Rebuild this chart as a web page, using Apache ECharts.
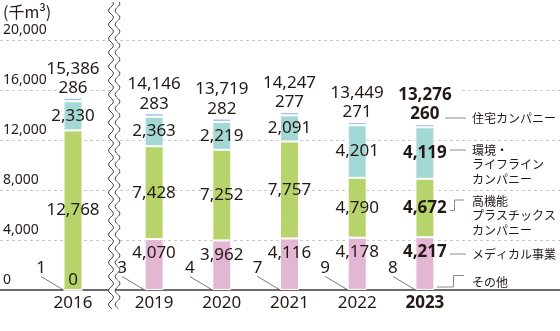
<!DOCTYPE html>
<html><head><meta charset="utf-8">
<script src="https://cdn.jsdelivr.net/npm/echarts@6/dist/echarts.min.js"></script>
<style>html,body{margin:0;padding:0;background:#fff}#c{width:560px;height:331px}</style>
</head><body><div id="c"></div>
<script>
// ---- data ----
const years   = ['2016','2019','2020','2021','2022','2023'];
const other   = [1, 3, 4, 7, 9, 8];
const medical = [0, 4070, 3962, 4116, 4178, 4217];
const hpp     = [12768, 7428, 7252, 7757, 4790, 4672];
const env     = [2330, 2363, 2219, 2091, 4201, 4119];
const housing = [286, 283, 282, 277, 271, 260];
const totals  = [15386, 14146, 13719, 14247, 13449, 13276];
const yTicks  = [0, 4000, 8000, 12000, 16000, 20000];
const unitLabel = '(千m³)';
const layerNames = ['その他', 'メディカル事業', '高機能プラスチックスカンパニー', '環境・ライフラインカンパニー', '住宅カンパニー'];
const annotations = [
  {text: '住宅カンパニー', y: 118},
  {text: '環境・\nライフライン\nカンパニー', y: 150},
  {text: '高機能\nプラスチックス\nカンパニー', y: 201},
  {text: 'メディカル事業', y: 254},
  {text: 'その他', y: 282}
];

const FONT = "'Noto Sans','Noto Sans CJK JP',sans-serif";
const JFONT = "'Noto Sans CJK JP','Noto Sans',sans-serif";
const TXT = '#231815';
const colors = ['#e3b7d4', '#e3b7d4', '#b6d46b', '#a3d8d5', '#a9c4e8'];
const fmt = v => String(v).replace(/\B(?=(\d{3})+(?!\d))/g, ',');
const lastIdx = years.length - 1;

const chart = echarts.init(document.getElementById('c'), null, {renderer: 'canvas'});

const yMin = yTicks[0], yMax = yTicks[yTicks.length - 1], yInt = yTicks[1] - yTicks[0];

function yearItem(i) {
  return i === lastIdx ? {value: years[i], textStyle: {fontWeight: 'bold'}} : years[i];
}

function makeSeries(g, idxs) {
  const layers = [other, medical, hpp, env, housing];
  const padT = g === 1 ? [0, 0] : [1, 10];
  return layers.map((arr, L) => {
    const s = {
      type: 'bar', name: layerNames[L], xAxisIndex: g, yAxisIndex: g, stack: 'st' + g,
      barWidth: 19,
      itemStyle: {color: colors[L], borderColor: '#fff', borderWidth: L === 0 ? 0 : 1},
      emphasis: {disabled: true},
      label: {show: true, color: TXT, fontSize: 17, fontFamily: FONT, formatter: p => fmt(p.value)},
      data: idxs.map(i => {
        const it = {value: arr[i]};
        if (i === lastIdx && L > 0) it.label = {fontWeight: 'bold'};
        return it;
      })
    };
    if (L === 0) {
      s.label.position = 'inside';
      s.labelLayout = {dx: -32, dy: -22};
      s.labelLine = {show: true, lineStyle: {color: '#595757', width: 0.8}};
    } else if (L === 1) {
      s.label.position = 'insideTop';
      s.label.distance = 6;
      s.data.forEach(it => { if (it.value === 0) it.label = Object.assign({}, it.label, {position: 'insideBottom', distance: 2}); });
    } else if (L === 2 || L === 3) {
      s.label.position = 'inside';
    } else {
      s.label.position = 'top';
      s.label.distance = 0;
      const base = {fontSize: 17, color: TXT, fontFamily: FONT, backgroundColor: '#fff'};
      s.label.rich = {
        t: Object.assign({}, base, {lineHeight: 20, padding: padT}),
        v: Object.assign({}, base, {lineHeight: 19}),
        tb: Object.assign({}, base, {lineHeight: 20, padding: padT, fontWeight: 'bold'}),
        vb: Object.assign({}, base, {lineHeight: 19, fontWeight: 'bold'})
      };
      s.data = idxs.map(i => {
        const b = i === lastIdx ? 'b' : '';
        return {value: arr[i], label: {formatter: '{t' + b + '|' + fmt(totals[i]) + '}\n{v' + b + '|' + fmt(arr[i]) + '}'}};
      });
    }
    return s;
  });
}

// wavy axis-break graphic
function wave(cx) {
  const pts = [];
  for (let y = 2; y <= 309; y += 1) pts.push([cx + 2.4 * Math.sin(2 * Math.PI * y / 14), y]);
  return pts;
}
const w1 = wave(111), w2 = wave(117.5);
const graphics = [
  {type: 'polygon', z: 100, shape: {points: w1.concat(w2.slice().reverse())}, style: {fill: '#fff'}},
  {type: 'polyline', z: 101, shape: {points: w1}, style: {stroke: '#4a4a4a', lineWidth: 1, fill: null}},
  {type: 'polyline', z: 101, shape: {points: w2}, style: {stroke: '#4a4a4a', lineWidth: 1, fill: null}},
  {type: 'text', z: 101, x: 3, y: 4, style: {text: unitLabel, font: '16px ' + JFONT, fill: TXT}}
];
// annotation leader lines
const LC = '#6b6b6b';
graphics.push({type: 'polyline', z: 101, shape: {points: [[445, 118], [466, 118]]}, style: {stroke: LC, lineWidth: 0.8, fill: null}});
graphics.push({type: 'polyline', z: 101, shape: {points: [[450, 150], [466, 150]]}, style: {stroke: LC, lineWidth: 0.8, fill: null}});
graphics.push({type: 'polyline', z: 101, shape: {points: [[450, 210.5], [454.5, 210.5], [454.5, 200], [464, 200]]}, style: {stroke: LC, lineWidth: 0.8, fill: null}});
graphics.push({type: 'polyline', z: 101, shape: {points: [[450, 254], [466, 254]]}, style: {stroke: LC, lineWidth: 0.8, fill: null}});
graphics.push({type: 'polyline', z: 101, shape: {points: [[437, 287], [453.5, 287], [453.5, 275.5], [464, 275.5]]}, style: {stroke: LC, lineWidth: 0.8, fill: null}});
annotations.forEach(a => {
  graphics.push({type: 'text', z: 101, x: 472, y: a.y - 7.25,
    style: {text: a.text, font: '12px ' + JFONT, fill: TXT, lineHeight: 14.5, verticalAlign: 'top'}});
});

const hiddenY = g => ({gridIndex: g, type: 'value', min: yMin, max: yMax, interval: yInt, show: false, splitLine: {show: false}});
const catX = (g, idxs) => ({
  gridIndex: g, type: 'category', data: idxs.map(yearItem),
  axisLine: {show: false}, axisTick: {show: false},
  axisLabel: {color: TXT, fontSize: 17, fontFamily: FONT, margin: 5, interval: 0}
});

const idxA = [0], idxB = years.map((_, i) => i).slice(1);

chart.setOption({
  animation: false,
  backgroundColor: '#fff',
  textStyle: {fontFamily: FONT},
  grid: [
    {left: 0, right: 0, top: 40, bottom: 41, outerBoundsMode: 'none', containLabel: false},
    {left: 39.25, width: 67.5, top: 40, bottom: 41, outerBoundsMode: 'none', containLabel: false},
    {left: 120.25, width: 338.5, top: 40, bottom: 41, outerBoundsMode: 'none', containLabel: false}
  ],
  xAxis: [
    {gridIndex: 0, type: 'value', min: 0, max: 1, axisLabel: {show: false}, axisTick: {show: false},
     splitLine: {show: false}, axisLine: {show: true, lineStyle: {color: '#6e6a69', width: 2}}},
    catX(1, idxA), catX(2, idxB)
  ],
  yAxis: [
    {gridIndex: 0, type: 'value', min: yMin, max: yMax, interval: yInt,
     axisLine: {show: false}, axisTick: {show: false},
     axisLabel: {inside: true, margin: 3, align: 'left', verticalAlign: 'bottom', padding: [0, 0, 3, 0],
                 fontSize: 14, color: TXT, fontFamily: FONT, formatter: v => fmt(v)},
     splitLine: {show: true, lineStyle: {type: [3, 3], color: '#c9c9c9', width: 1}}},
    hiddenY(1), hiddenY(2)
  ],
  series: makeSeries(1, idxA).concat(makeSeries(2, idxB)),
  graphic: graphics
});
</script></body></html>
